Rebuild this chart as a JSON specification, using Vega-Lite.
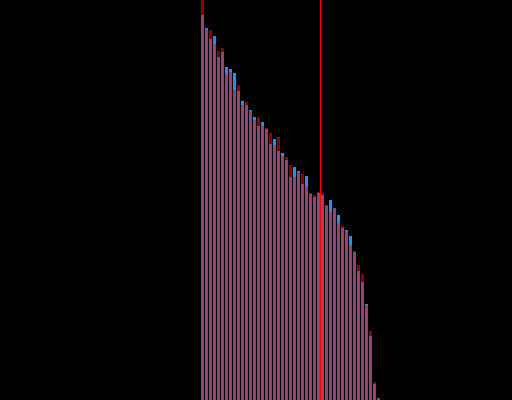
{
  "$schema": "https://vega.github.io/schema/vega-lite/v6.json",
  "width": 512,
  "height": 400,
  "autosize": {"type": "none"},
  "padding": 0,
  "background": "#000000",
  "config": {"view": {"stroke": null}},
  "data": {"values": [
    {"bin": 0, "bin_end": 1, "blue": 385, "red": 410},
    {"bin": 1, "bin_end": 2, "blue": 372, "red": 371},
    {"bin": 2, "bin_end": 3, "blue": 361, "red": 370},
    {"bin": 3, "bin_end": 4, "blue": 364, "red": 356},
    {"bin": 4, "bin_end": 5, "blue": 343, "red": 349},
    {"bin": 5, "bin_end": 6, "blue": 348, "red": 352},
    {"bin": 6, "bin_end": 7, "blue": 333, "red": 326},
    {"bin": 7, "bin_end": 8, "blue": 331, "red": 328},
    {"bin": 8, "bin_end": 9, "blue": 327, "red": 310},
    {"bin": 9, "bin_end": 10, "blue": 309, "red": 315},
    {"bin": 10, "bin_end": 11, "blue": 299, "red": 295},
    {"bin": 11, "bin_end": 12, "blue": 295, "red": 298},
    {"bin": 12, "bin_end": 13, "blue": 290, "red": 289},
    {"bin": 13, "bin_end": 14, "blue": 283, "red": 280},
    {"bin": 14, "bin_end": 15, "blue": 274, "red": 283},
    {"bin": 15, "bin_end": 16, "blue": 278, "red": 274},
    {"bin": 16, "bin_end": 17, "blue": 271, "red": 272},
    {"bin": 17, "bin_end": 18, "blue": 256, "red": 267},
    {"bin": 18, "bin_end": 19, "blue": 261, "red": 255},
    {"bin": 19, "bin_end": 20, "blue": 249, "red": 263},
    {"bin": 20, "bin_end": 21, "blue": 247, "red": 244},
    {"bin": 21, "bin_end": 22, "blue": 240, "red": 243},
    {"bin": 22, "bin_end": 23, "blue": 223, "red": 235},
    {"bin": 23, "bin_end": 24, "blue": 233, "red": 223},
    {"bin": 24, "bin_end": 25, "blue": 229, "red": 228},
    {"bin": 25, "bin_end": 26, "blue": 216, "red": 226},
    {"bin": 26, "bin_end": 27, "blue": 224, "red": 214},
    {"bin": 27, "bin_end": 28, "blue": 206, "red": 207},
    {"bin": 28, "bin_end": 29, "blue": 203, "red": 205},
    {"bin": 29, "bin_end": 30, "blue": 207, "red": 208},
    {"bin": 30, "bin_end": 31, "blue": 205, "red": 207},
    {"bin": 31, "bin_end": 32, "blue": 194, "red": 195},
    {"bin": 32, "bin_end": 33, "blue": 200, "red": 188},
    {"bin": 33, "bin_end": 34, "blue": 192, "red": 192},
    {"bin": 34, "bin_end": 35, "blue": 185, "red": 177},
    {"bin": 35, "bin_end": 36, "blue": 172, "red": 174},
    {"bin": 36, "bin_end": 37, "blue": 170, "red": 169},
    {"bin": 37, "bin_end": 38, "blue": 164, "red": 155},
    {"bin": 38, "bin_end": 39, "blue": 148, "red": 149},
    {"bin": 39, "bin_end": 40, "blue": 129, "red": 135},
    {"bin": 40, "bin_end": 41, "blue": 118, "red": 126},
    {"bin": 41, "bin_end": 42, "blue": 96, "red": 95},
    {"bin": 42, "bin_end": 43, "blue": 64, "red": 69},
    {"bin": 43, "bin_end": 44, "blue": 16, "red": 18},
    {"bin": 44, "bin_end": 45, "blue": 2, "red": 2}
  ]},
  "layer": [
    {
      "mark": {"type": "bar", "color": "#1e90ff", "clip": true},
      "encoding": {
        "x": {"field": "bin", "type": "quantitative", "bin": {"binned": true}, "scale": {"domain": [-50, 78], "nice": false, "zero": false}, "axis": null},
        "x2": {"field": "bin_end"},
        "y": {"field": "blue", "type": "quantitative", "scale": {"domain": [0, 400], "nice": false}, "axis": null}
      }
    },
    {
      "mark": {"type": "bar", "color": "#ff0000", "opacity": 0.55, "clip": true},
      "encoding": {
        "x": {"field": "bin", "type": "quantitative", "bin": {"binned": true}},
        "x2": {"field": "bin_end"},
        "y": {"field": "red", "type": "quantitative"}
      }
    },
    {
      "mark": {"type": "rule", "color": "#ff0000", "strokeWidth": 1},
      "encoding": {"x": {"datum": 30.125}}
    }
  ]
}
